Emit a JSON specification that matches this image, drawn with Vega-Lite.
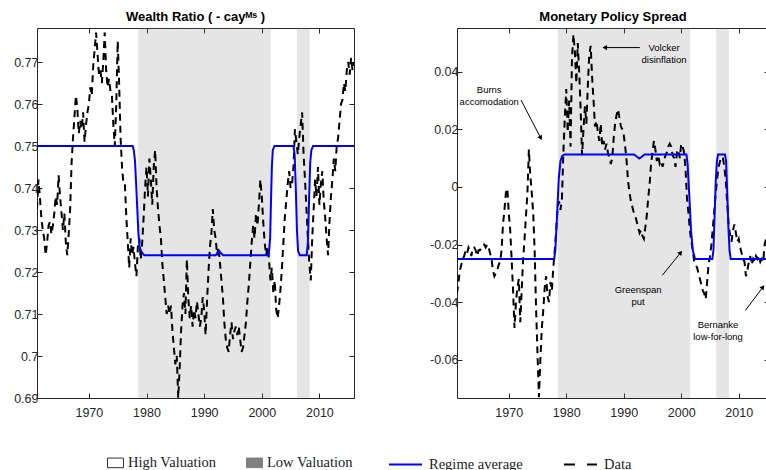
{
  "$schema": "https://vega.github.io/schema/vega-lite/v6.json",
  "padding": {"left": 13, "top": 10, "right": 0, "bottom": 0},
  "config": {
    "view": {"stroke": null},
    "font": "Liberation Sans",
    "axis": {"domainColor": "#262626", "domainWidth": 1, "tickColor": "#262626", "tickSize": -5, "tickWidth": 1, "labelColor": "#262626", "labelFont": "Liberation Sans", "labelFontSize": 12.5, "grid": false, "zindex": 1},
    "title": {"fontSize": 13, "font": "Liberation Sans", "fontWeight": "bold", "color": "#000000", "offset": 4, "anchor": "middle"}
  },
  "datasets": {
    "shade": [
      {"start": 1978.55, "end": 2001.55, "regime": "Low Valuation"},
      {"start": 2006.1, "end": 2008.3, "regime": "Low Valuation"}
    ],
    "wealth": [
      {"t":1961.0,"v":0.735},{"t":1961.25,"v":0.742},{"t":1961.5,"v":0.738},{"t":1961.75,"v":0.733},
      {"t":1962.0,"v":0.730},{"t":1962.25,"v":0.728},{"t":1962.5,"v":0.724},{"t":1962.75,"v":0.727},
      {"t":1963.0,"v":0.731},{"t":1963.25,"v":0.732},{"t":1963.5,"v":0.729},{"t":1963.75,"v":0.731},
      {"t":1964.0,"v":0.734},{"t":1964.25,"v":0.738},{"t":1964.5,"v":0.736},{"t":1964.75,"v":0.743},
      {"t":1965.0,"v":0.738},{"t":1965.25,"v":0.734},{"t":1965.5,"v":0.730},{"t":1965.75,"v":0.734},
      {"t":1966.0,"v":0.727},{"t":1966.25,"v":0.724},{"t":1966.5,"v":0.729},{"t":1966.75,"v":0.735},
      {"t":1967.0,"v":0.746},{"t":1967.25,"v":0.752},{"t":1967.5,"v":0.757},{"t":1967.75,"v":0.762},
      {"t":1968.0,"v":0.759},{"t":1968.25,"v":0.753},{"t":1968.5,"v":0.756},{"t":1968.75,"v":0.754},
      {"t":1969.0,"v":0.758},{"t":1969.25,"v":0.751},{"t":1969.5,"v":0.755},{"t":1969.75,"v":0.758},
      {"t":1970.0,"v":0.760},{"t":1970.25,"v":0.764},{"t":1970.5,"v":0.762},{"t":1970.75,"v":0.769},
      {"t":1971.0,"v":0.773},{"t":1971.25,"v":0.777},{"t":1971.5,"v":0.772},{"t":1971.75,"v":0.767},
      {"t":1972.0,"v":0.768},{"t":1972.25,"v":0.765},{"t":1972.5,"v":0.770},{"t":1972.75,"v":0.777},
      {"t":1973.0,"v":0.768},{"t":1973.25,"v":0.764},{"t":1973.5,"v":0.766},{"t":1973.75,"v":0.763},
      {"t":1974.0,"v":0.762},{"t":1974.25,"v":0.755},{"t":1974.5,"v":0.750},{"t":1974.75,"v":0.760},
      {"t":1975.0,"v":0.775},{"t":1975.25,"v":0.765},{"t":1975.5,"v":0.752},{"t":1975.75,"v":0.745},
      {"t":1976.0,"v":0.741},{"t":1976.25,"v":0.741},{"t":1976.5,"v":0.733},{"t":1976.75,"v":0.727},
      {"t":1977.0,"v":0.721},{"t":1977.25,"v":0.728},{"t":1977.5,"v":0.724},{"t":1977.75,"v":0.726},
      {"t":1978.0,"v":0.722},{"t":1978.25,"v":0.719},{"t":1978.5,"v":0.726},{"t":1978.75,"v":0.728},
      {"t":1979.0,"v":0.723},{"t":1979.25,"v":0.727},{"t":1979.5,"v":0.733},{"t":1979.75,"v":0.740},
      {"t":1980.0,"v":0.745},{"t":1980.25,"v":0.738},{"t":1980.5,"v":0.747},{"t":1980.75,"v":0.742},
      {"t":1981.0,"v":0.736},{"t":1981.25,"v":0.745},{"t":1981.5,"v":0.749},{"t":1981.75,"v":0.740},
      {"t":1982.0,"v":0.735},{"t":1982.25,"v":0.731},{"t":1982.5,"v":0.728},{"t":1982.75,"v":0.722},
      {"t":1983.0,"v":0.718},{"t":1983.25,"v":0.714},{"t":1983.5,"v":0.710},{"t":1983.75,"v":0.712},
      {"t":1984.0,"v":0.710},{"t":1984.25,"v":0.712},{"t":1984.5,"v":0.706},{"t":1984.75,"v":0.702},
      {"t":1985.0,"v":0.698},{"t":1985.25,"v":0.700},{"t":1985.5,"v":0.690},{"t":1985.75,"v":0.697},
      {"t":1986.0,"v":0.706},{"t":1986.25,"v":0.712},{"t":1986.5,"v":0.715},{"t":1986.75,"v":0.710},
      {"t":1987.0,"v":0.723},{"t":1987.25,"v":0.714},{"t":1987.5,"v":0.709},{"t":1987.75,"v":0.712},
      {"t":1988.0,"v":0.707},{"t":1988.25,"v":0.711},{"t":1988.5,"v":0.709},{"t":1988.75,"v":0.713},
      {"t":1989.0,"v":0.710},{"t":1989.25,"v":0.707},{"t":1989.5,"v":0.709},{"t":1989.75,"v":0.714},
      {"t":1990.0,"v":0.711},{"t":1990.25,"v":0.705},{"t":1990.5,"v":0.713},{"t":1990.75,"v":0.720},
      {"t":1991.0,"v":0.726},{"t":1991.25,"v":0.729},{"t":1991.5,"v":0.735},{"t":1991.75,"v":0.730},
      {"t":1992.0,"v":0.728},{"t":1992.25,"v":0.724},{"t":1992.5,"v":0.726},{"t":1992.75,"v":0.722},
      {"t":1993.0,"v":0.718},{"t":1993.25,"v":0.714},{"t":1993.5,"v":0.708},{"t":1993.75,"v":0.704},
      {"t":1994.0,"v":0.702},{"t":1994.25,"v":0.701},{"t":1994.5,"v":0.705},{"t":1994.75,"v":0.708},
      {"t":1995.0,"v":0.704},{"t":1995.25,"v":0.706},{"t":1995.5,"v":0.707},{"t":1995.75,"v":0.705},
      {"t":1996.0,"v":0.707},{"t":1996.25,"v":0.704},{"t":1996.5,"v":0.701},{"t":1996.75,"v":0.702},
      {"t":1997.0,"v":0.705},{"t":1997.25,"v":0.708},{"t":1997.5,"v":0.713},{"t":1997.75,"v":0.717},
      {"t":1998.0,"v":0.722},{"t":1998.25,"v":0.727},{"t":1998.5,"v":0.731},{"t":1998.75,"v":0.728},
      {"t":1999.0,"v":0.734},{"t":1999.25,"v":0.731},{"t":1999.5,"v":0.736},{"t":1999.75,"v":0.742},
      {"t":2000.0,"v":0.738},{"t":2000.25,"v":0.732},{"t":2000.5,"v":0.727},{"t":2000.75,"v":0.724},
      {"t":2001.0,"v":0.726},{"t":2001.25,"v":0.723},{"t":2001.5,"v":0.718},{"t":2001.75,"v":0.721},
      {"t":2002.0,"v":0.715},{"t":2002.25,"v":0.718},{"t":2002.5,"v":0.711},{"t":2002.75,"v":0.709},
      {"t":2003.0,"v":0.712},{"t":2003.25,"v":0.716},{"t":2003.5,"v":0.721},{"t":2003.75,"v":0.727},
      {"t":2004.0,"v":0.733},{"t":2004.25,"v":0.737},{"t":2004.5,"v":0.741},{"t":2004.75,"v":0.744},
      {"t":2005.0,"v":0.740},{"t":2005.25,"v":0.741},{"t":2005.5,"v":0.745},{"t":2005.75,"v":0.754},
      {"t":2006.0,"v":0.751},{"t":2006.25,"v":0.748},{"t":2006.5,"v":0.752},{"t":2006.75,"v":0.755},
      {"t":2007.0,"v":0.758},{"t":2007.25,"v":0.748},{"t":2007.5,"v":0.742},{"t":2007.75,"v":0.735},
      {"t":2008.0,"v":0.728},{"t":2008.25,"v":0.722},{"t":2008.5,"v":0.718},{"t":2008.75,"v":0.728},
      {"t":2009.0,"v":0.735},{"t":2009.25,"v":0.742},{"t":2009.5,"v":0.738},{"t":2009.75,"v":0.745},
      {"t":2010.0,"v":0.736},{"t":2010.25,"v":0.741},{"t":2010.5,"v":0.744},{"t":2010.75,"v":0.737},
      {"t":2011.0,"v":0.733},{"t":2011.25,"v":0.728},{"t":2011.5,"v":0.724},{"t":2011.75,"v":0.732},
      {"t":2012.0,"v":0.738},{"t":2012.25,"v":0.742},{"t":2012.5,"v":0.747},{"t":2012.75,"v":0.744},
      {"t":2013.0,"v":0.750},{"t":2013.25,"v":0.752},{"t":2013.5,"v":0.756},{"t":2013.75,"v":0.760},
      {"t":2014.0,"v":0.761},{"t":2014.25,"v":0.765},{"t":2014.5,"v":0.763},{"t":2014.75,"v":0.768},
      {"t":2015.0,"v":0.770},{"t":2015.25,"v":0.767},{"t":2015.5,"v":0.771},{"t":2015.75,"v":0.768},
      {"t":2016.0,"v":0.770}
    ],
    "wealthReg": [
      {"t":1961.0,"v":0.750},{"t":1977.6,"v":0.750},{"t":1977.8,"v":0.749},{"t":1978.0,"v":0.7465},
      {"t":1978.2,"v":0.741},{"t":1978.4,"v":0.735},{"t":1978.6,"v":0.729},{"t":1978.8,"v":0.726},
      {"t":1979.1,"v":0.7248},{"t":1979.6,"v":0.724},{"t":1992.0,"v":0.724},{"t":1992.3,"v":0.7245},
      {"t":1992.6,"v":0.725},{"t":1992.9,"v":0.7245},{"t":1993.3,"v":0.724},{"t":2001.2,"v":0.724},
      {"t":2001.45,"v":0.728},{"t":2001.6,"v":0.737},{"t":2001.75,"v":0.745},{"t":2001.9,"v":0.749},
      {"t":2002.2,"v":0.750},{"t":2005.5,"v":0.750},{"t":2005.7,"v":0.748},{"t":2005.9,"v":0.740},
      {"t":2006.1,"v":0.730},{"t":2006.3,"v":0.725},{"t":2006.6,"v":0.724},{"t":2007.8,"v":0.724},
      {"t":2008.0,"v":0.727},{"t":2008.2,"v":0.737},{"t":2008.4,"v":0.746},{"t":2008.6,"v":0.749},
      {"t":2008.9,"v":0.750},{"t":2016.0,"v":0.750}
    ],
    "spread": [
      {"t":1961.0,"v":-0.037},{"t":1961.25,"v":-0.033},{"t":1961.5,"v":-0.029},{"t":1961.75,"v":-0.027},
      {"t":1962.0,"v":-0.025},{"t":1962.25,"v":-0.024},{"t":1962.5,"v":-0.022},{"t":1962.75,"v":-0.023},
      {"t":1963.0,"v":-0.021},{"t":1963.25,"v":-0.022},{"t":1963.5,"v":-0.024},{"t":1963.75,"v":-0.021},
      {"t":1964.0,"v":-0.021},{"t":1964.25,"v":-0.022},{"t":1964.5,"v":-0.024},{"t":1964.75,"v":-0.022},
      {"t":1965.0,"v":-0.022},{"t":1965.25,"v":-0.021},{"t":1965.5,"v":-0.020},{"t":1965.75,"v":-0.020},
      {"t":1966.0,"v":-0.021},{"t":1966.25,"v":-0.020},{"t":1966.5,"v":-0.021},{"t":1966.75,"v":-0.023},
      {"t":1967.0,"v":-0.025},{"t":1967.25,"v":-0.029},{"t":1967.5,"v":-0.031},{"t":1967.75,"v":-0.030},
      {"t":1968.0,"v":-0.029},{"t":1968.25,"v":-0.027},{"t":1968.5,"v":-0.026},{"t":1968.75,"v":-0.022},
      {"t":1969.0,"v":-0.013},{"t":1969.25,"v":-0.008},{"t":1969.5,"v":-0.002},{"t":1969.75,"v":-0.0005},
      {"t":1970.0,"v":-0.009},{"t":1970.25,"v":-0.015},{"t":1970.5,"v":-0.025},{"t":1970.75,"v":-0.036},
      {"t":1971.0,"v":-0.049},{"t":1971.25,"v":-0.040},{"t":1971.5,"v":-0.035},{"t":1971.75,"v":-0.032},
      {"t":1972.0,"v":-0.047},{"t":1972.25,"v":-0.036},{"t":1972.5,"v":-0.025},{"t":1972.75,"v":-0.018},
      {"t":1973.0,"v":-0.010},{"t":1973.25,"v":-0.002},{"t":1973.5,"v":0.013},{"t":1973.75,"v":0.004},
      {"t":1974.0,"v":-0.002},{"t":1974.25,"v":-0.009},{"t":1974.5,"v":-0.022},{"t":1974.75,"v":-0.042},
      {"t":1975.0,"v":-0.058},{"t":1975.25,"v":-0.073},{"t":1975.5,"v":-0.060},{"t":1975.75,"v":-0.049},
      {"t":1976.0,"v":-0.043},{"t":1976.25,"v":-0.035},{"t":1976.5,"v":-0.031},{"t":1976.75,"v":-0.038},
      {"t":1977.0,"v":-0.040},{"t":1977.25,"v":-0.033},{"t":1977.5,"v":-0.036},{"t":1977.75,"v":-0.028},
      {"t":1978.0,"v":-0.022},{"t":1978.25,"v":-0.015},{"t":1978.5,"v":-0.007},{"t":1978.75,"v":-0.005},
      {"t":1979.0,"v":-0.008},{"t":1979.25,"v":-0.004},{"t":1979.5,"v":0.012},{"t":1979.75,"v":0.024},
      {"t":1980.0,"v":0.034},{"t":1980.25,"v":0.019},{"t":1980.5,"v":0.030},{"t":1980.75,"v":0.014},
      {"t":1981.0,"v":0.045},{"t":1981.25,"v":0.053},{"t":1981.5,"v":0.047},{"t":1981.75,"v":0.036},
      {"t":1982.0,"v":0.050},{"t":1982.25,"v":0.040},{"t":1982.5,"v":0.027},{"t":1982.75,"v":0.011},
      {"t":1983.0,"v":0.020},{"t":1983.25,"v":0.028},{"t":1983.5,"v":0.022},{"t":1983.75,"v":0.035},
      {"t":1984.0,"v":0.046},{"t":1984.25,"v":0.049},{"t":1984.5,"v":0.038},{"t":1984.75,"v":0.030},
      {"t":1985.0,"v":0.021},{"t":1985.25,"v":0.023},{"t":1985.5,"v":0.019},{"t":1985.75,"v":0.016},
      {"t":1986.0,"v":0.022},{"t":1986.25,"v":0.014},{"t":1986.5,"v":0.016},{"t":1986.75,"v":0.013},
      {"t":1987.0,"v":0.015},{"t":1987.25,"v":0.012},{"t":1987.5,"v":0.010},{"t":1987.75,"v":0.008},
      {"t":1988.0,"v":0.010},{"t":1988.25,"v":0.017},{"t":1988.5,"v":0.022},{"t":1988.75,"v":0.025},
      {"t":1989.0,"v":0.027},{"t":1989.25,"v":0.024},{"t":1989.5,"v":0.021},{"t":1989.75,"v":0.020},
      {"t":1990.0,"v":0.018},{"t":1990.25,"v":0.014},{"t":1990.5,"v":0.009},{"t":1990.75,"v":0.002},
      {"t":1991.0,"v":-0.002},{"t":1991.25,"v":-0.005},{"t":1991.5,"v":-0.007},{"t":1991.75,"v":-0.009},
      {"t":1992.0,"v":-0.010},{"t":1992.25,"v":-0.012},{"t":1992.5,"v":-0.014},{"t":1992.75,"v":-0.016},
      {"t":1993.0,"v":-0.015},{"t":1993.25,"v":-0.017},{"t":1993.5,"v":-0.018},{"t":1993.75,"v":-0.014},
      {"t":1994.0,"v":-0.010},{"t":1994.25,"v":-0.004},{"t":1994.5,"v":0.001},{"t":1994.75,"v":0.008},
      {"t":1995.0,"v":0.012},{"t":1995.25,"v":0.016},{"t":1995.5,"v":0.013},{"t":1995.75,"v":0.009},
      {"t":1996.0,"v":0.011},{"t":1996.25,"v":0.008},{"t":1996.5,"v":0.009},{"t":1996.75,"v":0.007},
      {"t":1997.0,"v":0.009},{"t":1997.25,"v":0.011},{"t":1997.5,"v":0.012},{"t":1997.75,"v":0.014},
      {"t":1998.0,"v":0.015},{"t":1998.25,"v":0.014},{"t":1998.5,"v":0.011},{"t":1998.75,"v":0.010},
      {"t":1999.0,"v":0.007},{"t":1999.25,"v":0.012},{"t":1999.5,"v":0.013},{"t":1999.75,"v":0.010},
      {"t":2000.0,"v":0.015},{"t":2000.25,"v":0.014},{"t":2000.5,"v":0.012},{"t":2000.75,"v":0.006},
      {"t":2001.0,"v":-0.004},{"t":2001.25,"v":-0.009},{"t":2001.5,"v":-0.015},{"t":2001.75,"v":-0.019},
      {"t":2002.0,"v":-0.022},{"t":2002.25,"v":-0.026},{"t":2002.5,"v":-0.027},{"t":2002.75,"v":-0.028},
      {"t":2003.0,"v":-0.030},{"t":2003.25,"v":-0.032},{"t":2003.5,"v":-0.034},{"t":2003.75,"v":-0.036},
      {"t":2004.0,"v":-0.037},{"t":2004.25,"v":-0.039},{"t":2004.5,"v":-0.033},{"t":2004.75,"v":-0.027},
      {"t":2005.0,"v":-0.024},{"t":2005.25,"v":-0.020},{"t":2005.5,"v":-0.014},{"t":2005.75,"v":-0.008},
      {"t":2006.0,"v":-0.002},{"t":2006.25,"v":0.003},{"t":2006.5,"v":0.007},{"t":2006.75,"v":0.009},
      {"t":2007.0,"v":0.0105},{"t":2007.25,"v":0.010},{"t":2007.5,"v":0.007},{"t":2007.75,"v":0.002},
      {"t":2008.0,"v":-0.006},{"t":2008.25,"v":-0.013},{"t":2008.5,"v":-0.017},{"t":2008.75,"v":-0.019},
      {"t":2009.0,"v":-0.015},{"t":2009.25,"v":-0.013},{"t":2009.5,"v":-0.016},{"t":2009.75,"v":-0.019},
      {"t":2010.0,"v":-0.018},{"t":2010.25,"v":-0.021},{"t":2010.5,"v":-0.023},{"t":2010.75,"v":-0.025},
      {"t":2011.0,"v":-0.026},{"t":2011.25,"v":-0.031},{"t":2011.5,"v":-0.029},{"t":2011.75,"v":-0.026},
      {"t":2012.0,"v":-0.024},{"t":2012.25,"v":-0.027},{"t":2012.5,"v":-0.025},{"t":2012.75,"v":-0.026},
      {"t":2013.0,"v":-0.024},{"t":2013.25,"v":-0.025},{"t":2013.5,"v":-0.024},{"t":2013.75,"v":-0.026},
      {"t":2014.0,"v":-0.025},{"t":2014.25,"v":-0.026},{"t":2014.5,"v":-0.020},{"t":2014.75,"v":-0.018},
      {"t":2015.0,"v":-0.018},{"t":2015.25,"v":-0.016}
    ],
    "spreadReg": [
      {"t":1961.0,"v":-0.025},{"t":1977.9,"v":-0.025},{"t":1978.1,"v":-0.022},{"t":1978.4,"v":-0.010},
      {"t":1978.7,"v":0.003},{"t":1979.0,"v":0.009},{"t":1979.3,"v":0.0108},{"t":1979.7,"v":0.0113},
      {"t":1991.8,"v":0.0113},{"t":1992.3,"v":0.0105},{"t":1992.7,"v":0.0099},{"t":1993.1,"v":0.0104},
      {"t":1993.6,"v":0.0113},{"t":2000.9,"v":0.0113},{"t":2001.1,"v":0.008},{"t":2001.4,"v":-0.003},
      {"t":2001.7,"v":-0.015},{"t":2002.0,"v":-0.022},{"t":2002.4,"v":-0.025},{"t":2005.4,"v":-0.025},
      {"t":2005.6,"v":-0.022},{"t":2005.8,"v":-0.010},{"t":2006.0,"v":0.002},{"t":2006.2,"v":0.009},
      {"t":2006.4,"v":0.0113},{"t":2007.6,"v":0.0113},{"t":2007.8,"v":0.009},{"t":2008.0,"v":-0.002},
      {"t":2008.2,"v":-0.014},{"t":2008.4,"v":-0.022},{"t":2008.6,"v":-0.025},{"t":2015.3,"v":-0.025}
    ],
    "notes": [
      {"label": ["Burns", "accomodation"], "t": 1966.6, "v": 0.0336},
      {"label": ["Volcker", "disinflation"], "t": 1997.0, "v": 0.0484},
      {"label": ["Greenspan", "put"], "t": 1992.5, "v": -0.0357},
      {"label": ["Bernanke", "low-for-long"], "t": 2006.4, "v": -0.0478}
    ],
    "arrows": [
      {"name": "Burns", "t1": 1972.13, "v1": 0.0302, "t2": 1975.56, "v2": 0.0170},
      {"name": "Volcker", "t1": 1992.8, "v1": 0.0484, "t2": 1986.7, "v2": 0.0484},
      {"name": "Greenspan", "t1": 1996.7, "v1": -0.0307, "t2": 1999.9, "v2": -0.0228},
      {"name": "Bernanke", "t1": 2011.14, "v1": -0.0429, "t2": 2014.2, "v2": -0.0348}
    ]
  },
  "spacing": 74,
  "hconcat": [
    {
      "width": 317,
      "height": 370,
      "title": {"text": "Wealth Ratio ( - cayᴹˢ )"},
      "resolve": {"axis": {"x": "independent", "y": "independent"}},
      "layer": [
        {
          "data": {"name": "shade"},
          "mark": {"type": "rect", "clip": true, "opacity": 0.2},
          "encoding": {
            "x": {"field": "start", "type": "quantitative", "scale": {"domain": [1961, 2016], "nice": false, "zero": false},
                  "axis": {"orient": "bottom", "values": [1970, 1980, 1990, 2000, 2010], "format": "d", "title": null, "labelPadding": 13}},
            "x2": {"field": "end"},
            "fill": {"field": "regime", "type": "nominal",
                     "scale": {"domain": ["High Valuation", "Low Valuation"], "range": ["#ffffff", "#7f7f7f"]},
                     "legend": {"orient": "none", "legendX": 70, "legendY": 426, "direction": "horizontal", "title": null,
                                "symbolType": "M-1,-0.6H1V0.6H-1Z", "symbolSize": 256, "symbolStrokeWidth": 1, "symbolOpacity": 1,
                                "labelFont": "Liberation Serif", "labelFontSize": 14.5, "labelColor": "#222222",
                                "columnPadding": 27, "labelOffset": 4,
                                "encode": {"symbols": {"update": {
                                  "opacity": {"value": 1},
                                  "stroke": {"signal": "datum.value === 'Low Valuation' ? '#7f7f7f' : '#333333'"}}}}}}
          }
        },
        {
          "data": {"name": "wealth"},
          "mark": {"type": "line", "strokeDash": [7, 5], "strokeWidth": 2, "clip": true},
          "encoding": {
            "x": {"field": "t", "type": "quantitative", "scale": {"domain": [1961, 2016], "nice": false, "zero": false},
                  "axis": {"orient": "top", "labels": false, "values": [1970, 1980, 1990, 2000, 2010], "title": null}},
            "y": {"field": "v", "type": "quantitative", "scale": {"domain": [0.69, 0.7781], "nice": false, "zero": false},
                  "axis": {"orient": "left", "values": [0.69, 0.7, 0.71, 0.72, 0.73, 0.74, 0.75, 0.76, 0.77], "format": ".2~f", "title": null, "labelPadding": 4}},
            "stroke": {"datum": "Data", "type": "nominal",
                       "scale": {"domain": ["Regime average", "Data"], "range": ["#0000ff", "#000000"]},
                       "legend": {"orient": "none", "legendX": 351, "legendY": 419, "direction": "horizontal", "title": null,
                                  "symbolType": "M-1,0H1", "symbolSize": 1089, "symbolStrokeWidth": 2,
                                  "labelFont": "Liberation Serif", "labelFontSize": 14.5, "labelColor": "#222222",
                                  "columnPadding": 37, "labelOffset": 6,
                                  "encode": {"symbols": {"update": {
                                    "strokeDash": {"signal": "datum.value === 'Data' ? [11, 12] : [1, 0]"}}}}}}
          }
        },
        {
          "data": {"name": "wealthReg"},
          "mark": {"type": "line", "strokeWidth": 2, "clip": true},
          "encoding": {
            "x": {"field": "t", "type": "quantitative", "axis": null},
            "y": {"field": "v", "type": "quantitative",
                  "axis": {"orient": "right", "labels": false, "values": [0.69, 0.7, 0.71, 0.72, 0.73, 0.74, 0.75, 0.76, 0.77], "title": null}},
            "stroke": {"datum": "Regime average", "type": "nominal"}
          }
        }
      ]
    },
    {
      "width": 312,
      "height": 370,
      "title": {"text": "Monetary Policy Spread"},
      "resolve": {"axis": {"x": "independent", "y": "independent"}},
      "layer": [
        {
          "data": {"name": "shade"},
          "mark": {"type": "rect", "clip": true, "opacity": 0.2},
          "encoding": {
            "x": {"field": "start", "type": "quantitative", "scale": {"domain": [1961, 2015.26], "nice": false, "zero": false},
                  "axis": {"orient": "bottom", "values": [1970, 1980, 1990, 2000, 2010], "format": "d", "title": null, "labelPadding": 13}},
            "x2": {"field": "end"},
            "fill": {"field": "regime", "type": "nominal"}
          }
        },
        {
          "data": {"name": "spread"},
          "mark": {"type": "line", "strokeDash": [7, 5], "strokeWidth": 2, "clip": true},
          "encoding": {
            "x": {"field": "t", "type": "quantitative", "scale": {"domain": [1961, 2015.26], "nice": false, "zero": false},
                  "axis": {"orient": "top", "labels": false, "values": [1970, 1980, 1990, 2000, 2010], "title": null}},
            "y": {"field": "v", "type": "quantitative", "scale": {"domain": [-0.0733, 0.0552], "nice": false, "zero": false},
                  "axis": {"orient": "left", "values": [-0.06, -0.04, -0.02, 0, 0.02, 0.04], "format": ".2~f", "labelExpr": "replace(datum.label, '−', '-')", "title": null, "labelPadding": 4}},
            "stroke": {"datum": "Data", "type": "nominal"}
          }
        },
        {
          "data": {"name": "spreadReg"},
          "mark": {"type": "line", "strokeWidth": 2, "clip": true},
          "encoding": {
            "x": {"field": "t", "type": "quantitative", "axis": null},
            "y": {"field": "v", "type": "quantitative",
                  "axis": {"orient": "right", "labels": false, "values": [-0.06, -0.04, -0.02, 0, 0.02, 0.04], "title": null}},
            "stroke": {"datum": "Regime average", "type": "nominal"}
          }
        },
        {
          "data": {"name": "notes"},
          "mark": {"type": "text", "font": "Liberation Sans", "fontSize": 9.5, "lineHeight": 12, "align": "center", "baseline": "middle", "color": "#000000"},
          "encoding": {
            "x": {"field": "t", "type": "quantitative", "axis": null},
            "y": {"field": "v", "type": "quantitative", "axis": null},
            "text": {"field": "label"}
          }
        },
        {
          "data": {"name": "arrows"},
          "mark": {"type": "rule", "color": "#000000", "strokeWidth": 1},
          "encoding": {
            "x": {"field": "t1", "type": "quantitative", "axis": null},
            "y": {"field": "v1", "type": "quantitative", "axis": null},
            "x2": {"field": "t2"},
            "y2": {"field": "v2"}
          }
        },
        {
          "data": {"name": "arrows"},
          "transform": [{"filter": "datum.name === 'Burns'"}],
          "mark": {"type": "point", "shape": "triangle-up", "filled": true, "size": 28, "color": "#000000", "opacity": 1, "angle": 152.6},
          "encoding": {
            "x": {"field": "t2", "type": "quantitative", "axis": null},
            "y": {"field": "v2", "type": "quantitative", "axis": null}
          }
        },
        {
          "data": {"name": "arrows"},
          "transform": [{"filter": "datum.name === 'Volcker'"}],
          "mark": {"type": "point", "shape": "triangle-up", "filled": true, "size": 28, "color": "#000000", "opacity": 1, "angle": 270},
          "encoding": {
            "x": {"field": "t2", "type": "quantitative", "axis": null},
            "y": {"field": "v2", "type": "quantitative", "axis": null}
          }
        },
        {
          "data": {"name": "arrows"},
          "transform": [{"filter": "datum.name === 'Greenspan' || datum.name === 'Bernanke'"}],
          "mark": {"type": "point", "shape": "triangle-up", "filled": true, "size": 28, "color": "#000000", "opacity": 1, "angle": 38},
          "encoding": {
            "x": {"field": "t2", "type": "quantitative", "axis": null},
            "y": {"field": "v2", "type": "quantitative", "axis": null}
          }
        }
      ]
    }
  ]
}
